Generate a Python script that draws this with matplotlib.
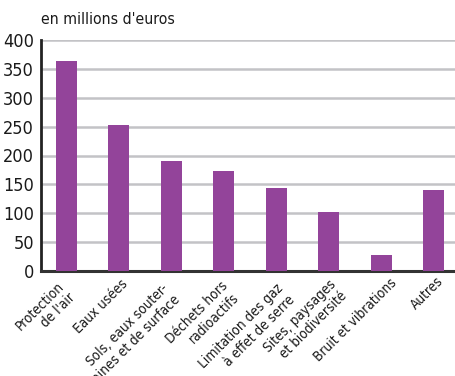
import matplotlib
matplotlib.use("Agg")
import matplotlib.pyplot as plt
from matplotlib.transforms import ScaledTranslation

plt.rcParams['font.family'] = ['DejaVu Sans']
plt.rcParams['font.stretch'] = 'condensed'

categories = ["Protection\nde l'air", "Eaux usées", "Sols, eaux souter-\nraines et de surface",
              "Déchets hors\nradioactifs", "Limitation des gaz\nà effet de serre",
              "Sites, paysages\net biodiversité", "Bruit et vibrations", "Autres"]
values = [363, 253, 190, 173, 144, 102, 28, 140]
yticks = [0, 50, 100, 150, 200, 250, 300, 350, 400]
unit_label = "en millions d'euros"

# per-label nudges in pixels (layout only)
label_nudge_x = [-10, 2, -10, -3, 0, 0, 9, 3]
label_nudge_y = [8, 6, 10, 8, 10, 6, 5, 3]

fig = plt.figure(figsize=(4.56, 3.76), dpi=100)
ax = fig.add_axes([41/456, 1-271/376, 1-41/456, 231/376])
x = list(range(len(categories)))
ax.bar(x, values, width=0.4, color="#93449A", zorder=3)
ax.set_xlim(-0.487, 7.43)
ax.set_ylim(0, 400)
ax.set_yticks(yticks)
ax.yaxis.grid(True, color="#c3c3c6", linewidth=1.8, zorder=0)
ax.set_axisbelow(True)
for s in ["top", "right"]:
    ax.spines[s].set_visible(False)
ax.spines["left"].set_linewidth(2)
ax.spines["left"].set_color("#222222")
ax.spines["bottom"].set_linewidth(2.2)
ax.spines["bottom"].set_color("#333333")
ax.tick_params(axis="y", length=0, labelsize=13, pad=5, colors="#1a1a1a")
ax.tick_params(axis="x", length=0, pad=0)
ax.set_xticks(x)
labels = ax.set_xticklabels(categories, rotation=45, ha="right", va="top", rotation_mode="anchor",
                            fontsize=9.8, multialignment="right", color="#1a1a1a", linespacing=1.2)
for lab, dx, dy in zip(labels, label_nudge_x, label_nudge_y):
    lab.set_transform(lab.get_transform() + ScaledTranslation(dx / 100, -dy / 100, fig.dpi_scale_trans))
fig.text(41/456, 1-20/376, unit_label, fontsize=11.3, va="center", ha="left", color="#1a1a1a")
fig.savefig("out.png", dpi=100)
